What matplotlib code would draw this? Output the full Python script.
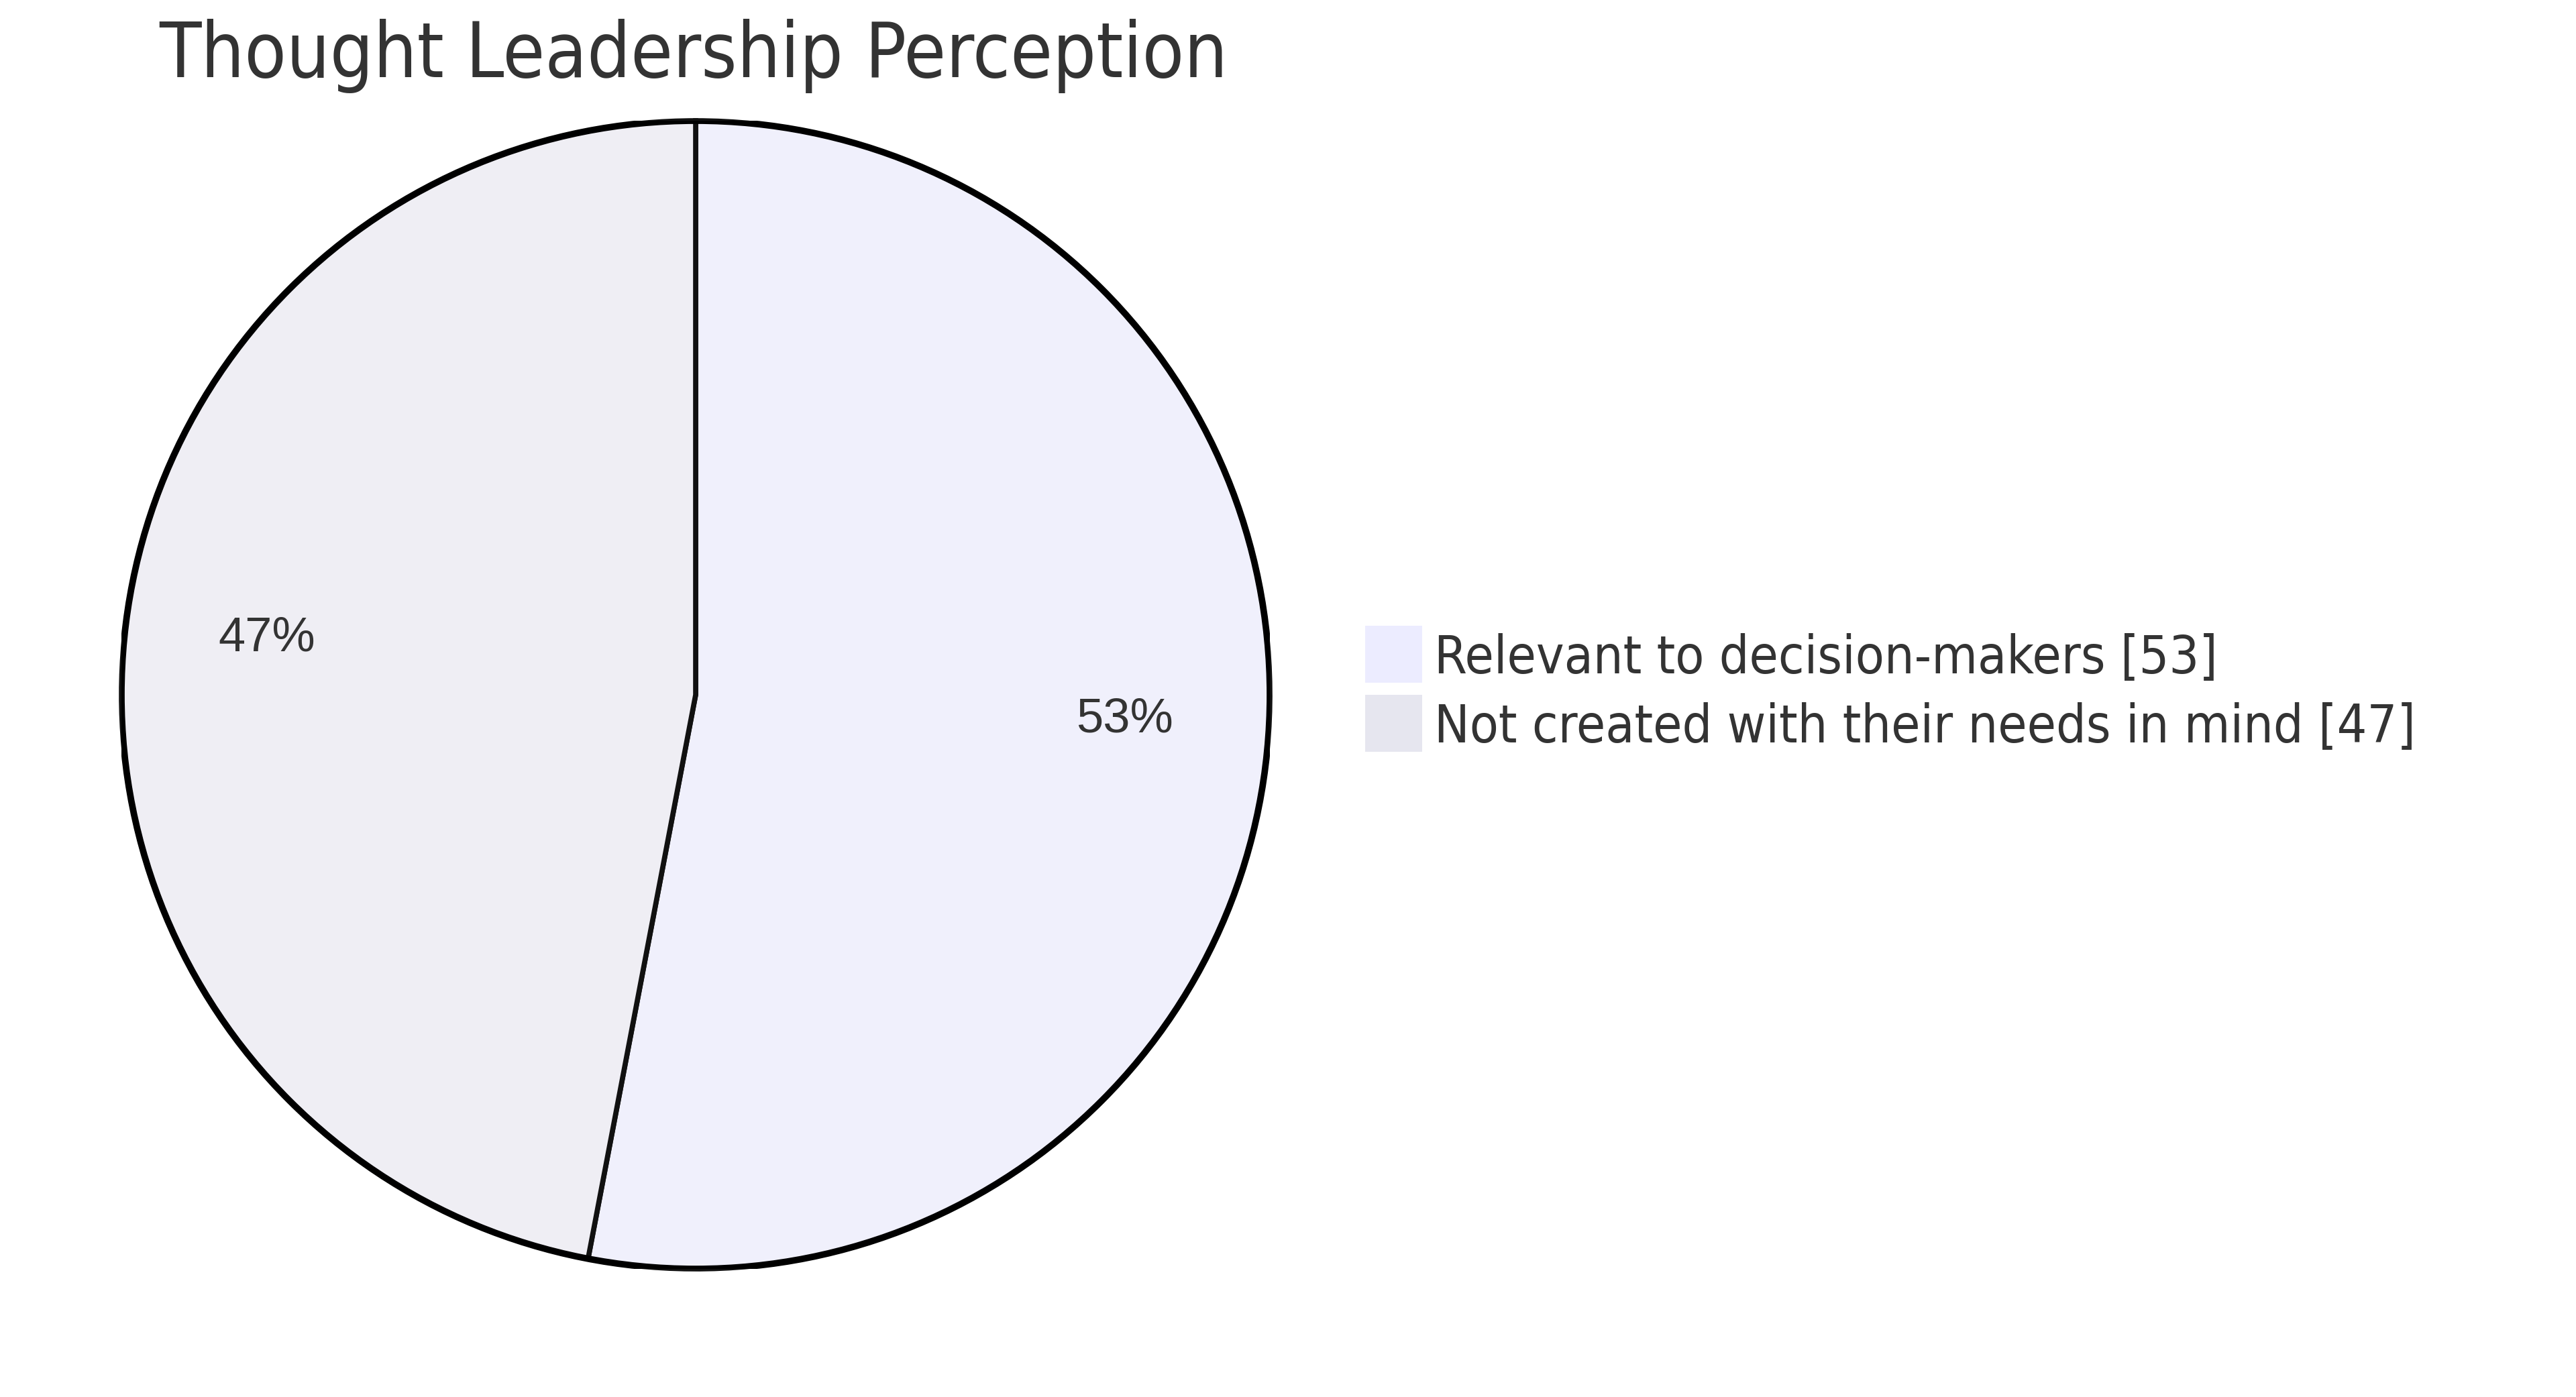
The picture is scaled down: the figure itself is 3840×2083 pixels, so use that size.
import matplotlib.pyplot as plt
from matplotlib.patches import Circle, Rectangle

labels = ["Relevant to decision-makers", "Not created with their needs in mind"]
values = [53, 47]
slice_colors = ["#F0F0FC", "#EFEEF4"]
legend_colors = ["#ECECFF", "#E6E6EF"]
title = "Thought Leadership Perception"

W, H = 3840, 2083
DPI = 100
TEXT = "#333333"
FONT = "DejaVu Sans"
PCT_FONT = ["Liberation Sans", "DejaVu Sans"]

fig = plt.figure(figsize=(W / DPI, H / DPI), dpi=DPI)
fig.patch.set_facecolor("white")

# pie area in pixels
cx, cy, r = 1037, 1036, 856
ax = fig.add_axes([(cx - r) / W, (H - cy - r) / H, 2 * r / W, 2 * r / H])

wedges, texts, autotexts = ax.pie(
    values,
    colors=slice_colors,
    startangle=90,
    counterclock=False,
    radius=1,
    autopct="%1.0f%%",
    pctdistance=0.75,
    wedgeprops=dict(edgecolor="#111111", linewidth=5.5),
    textprops=dict(color=TEXT, fontsize=52, family=PCT_FONT),
)
ax.add_patch(Circle((0, 0), 1.0, fill=False, edgecolor="black", linewidth=7))
ax.set_xlim(-1, 1)
ax.set_ylim(-1, 1)
ax.set_aspect("equal")
ax.axis("off")

# labels sit a bit higher than the arc centroid
for t in autotexts:
    x, y = t.get_position()
    t.set_position((x, y + 0.027))

fig.text(237 / W, 1 - 115 / H, title, fontsize=82, color=TEXT,
         family=FONT, fontstretch="condensed", va="baseline", ha="left")

# legend
sq = 85
for i, (lab, val, col) in enumerate(zip(labels, values, legend_colors)):
    top = 933 + i * 103
    fig.add_artist(Rectangle((2035 / W, 1 - (top + sq) / H), sq / W, sq / H,
                             transform=fig.transFigure, facecolor=col,
                             edgecolor="none"))
    fig.text(2138 / W, 1 - (1003 + i * 103) / H, f"{lab} [{val}]",
             fontsize=56.5, color=TEXT, family=FONT, fontstretch="condensed",
             va="baseline", ha="left")

fig.savefig("out.png", dpi=DPI)
